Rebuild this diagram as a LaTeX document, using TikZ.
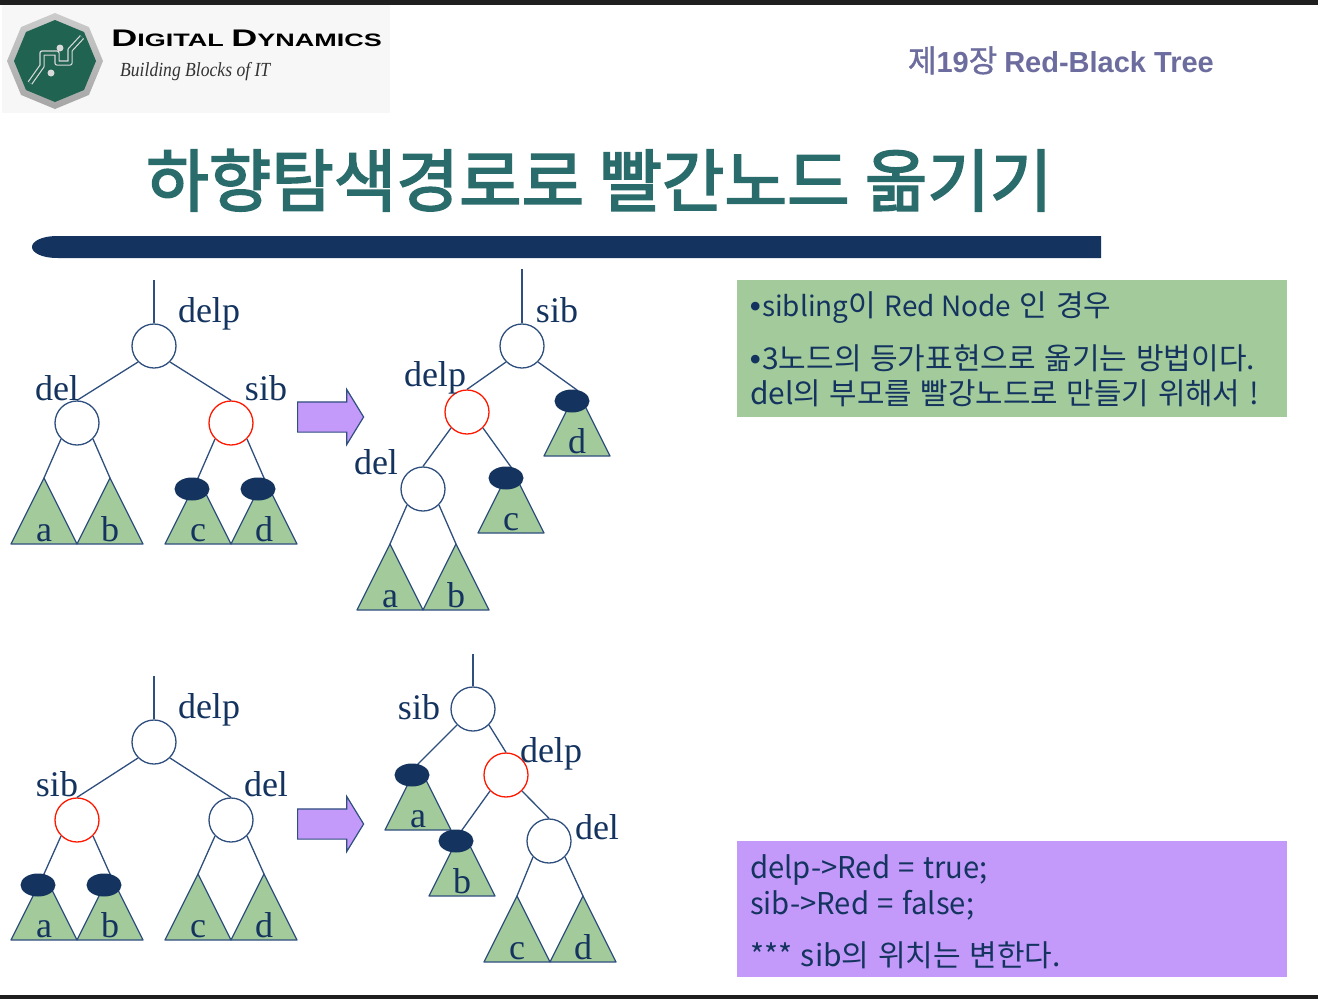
\documentclass[tikz,border=0pt]{standalone}
\usepackage{fontspec}
\usepackage{tikz}
\usetikzlibrary{shapes.geometric,shapes.arrows}
\setmainfont[WordSpace=1.3]{Noto Sans CJK KR}
\newfontfamily\heavyfont[FakeBold=1.2]{Noto Sans CJK KR}
\newfontfamily\titlefont[FakeBold=2.6]{Noto Sans CJK KR}
\newfontfamily\smallfont[Scale=0.93]{Noto Sans CJK KR}
\newfontfamily\treefont{Liberation Serif}
\newfontfamily\logofont{Liberation Sans}
\definecolor{navy}{HTML}{14345F}
\definecolor{edgeblue}{HTML}{2F4F7F}
\definecolor{leafgreen}{HTML}{A3CA9B}
\definecolor{boxpurple}{HTML}{C39AFA}
\definecolor{titleteal}{HTML}{2A6B6B}
\definecolor{headgray}{HTML}{6C6C9E}
\definecolor{logogreen}{HTML}{1F6350}
\newcommand{\bul}{{\logofont\bfseries •}\hspace{1.5pt}}

\begin{document}
\begin{tikzpicture}[
        x=1pt, y=-1pt,
        wnode/.style={circle, draw=edgeblue, fill=white, line width=1.3pt, minimum size=44pt, inner sep=0pt},
        rnode/.style={wnode, draw=red!80!orange},
        bnode/.style={ellipse, fill=navy, minimum width=35pt, minimum height=23pt, inner sep=0pt},
        edge/.style={draw=edgeblue, line width=1.3pt},
        leaf/.style={draw=edgeblue, fill=leafgreen, line width=1.2pt, line join=round},
        tlabel/.style={text=navy, inner sep=0pt, font=\treefont\fontsize{36}{36}\selectfont},
        leaflabel/.style={text=navy, inner sep=0pt, anchor=base, font=\treefont\fontsize{36}{36}\selectfont},
        bigarrow/.style={single arrow, draw=edgeblue, fill=boxpurple, line width=1.2pt, inner sep=0pt, anchor=west,
          minimum height=66pt, single arrow head extend=12.5pt, single arrow tip angle=117},
        boxtext/.style={text=navy, inner sep=0pt, anchor=base west, font=\fontsize{30}{30}\selectfont}
      ]
      \useasboundingbox (0,0) rectangle (1318,999);
      \fill[white] (0,0) rectangle (1318,999);
      \fill[black!88] (0,0) rectangle (1318,5);
      \fill[black!88] (0,995) rectangle (1318,999);

      % logo
      \fill[black!3] (2,5) rectangle (390,113);
      \node[regular polygon, regular polygon sides=8, shape border rotate=22.5, minimum size=96pt, inner sep=0pt,
        top color=black!20, bottom color=black!35] (logoout) at (55,61) {};
      \node[regular polygon, regular polygon sides=8, shape border rotate=22.5, minimum size=82pt, inner sep=0pt,
        fill=logogreen] (logoin) at (55,61) {};
      \draw[black!15, line width=1.2pt, double=logogreen, double distance=3pt, line join=round]
        (30,83) -- (42,66) -- (42,53) -- (57,53) -- (57,63) -- (70,63) -- (70,50) -- (82,37);
      \fill[black!15] (60,48) circle (3.5pt) (51,73) circle (3.5pt);
      \node[anchor=base west, inner sep=0pt, xscale=1.5, font=\logofont\bfseries\fontsize{24}{24}\selectfont] (logoname) at (111,46)
        {D\fontsize{18}{18}\selectfont IGITAL \fontsize{24}{24}\selectfont D\fontsize{18}{18}\selectfont YNAMICS};
      \node[anchor=base west, inner sep=0pt, xscale=0.88, text=black!80, font=\treefont\itshape\fontsize{20}{20}\selectfont] (logosub) at (120,76) {Building Blocks of IT};

      % title
      \node[anchor=base east, inner sep=0pt, text=headgray, font=\heavyfont\fontsize{31}{31}\selectfont] (chapter) at (1214,72)
        {제{\logofont\bfseries\fontsize{29}{29}\selectfont 19}장 {\logofont\bfseries\fontsize{29}{29}\selectfont Red-Black Tree}};
      \node[anchor=base west, inner sep=0pt, text=titleteal, font=\titlefont\fontsize{68}{68}\selectfont] (title) at (146,206) {하향탐색경로로 빨간노드 옮기기};
      \fill[navy] (1101,236) -- (58,236) .. controls (40,236) and (32,242) .. (32,247)
        .. controls (32,252) and (40,258) .. (58,258) -- (1101,258) -- cycle;

      % leaves: name/x/y/text, (x,y) is the apex
      \foreach \nm/\x/\y/\txt in {la/44/478/a, lb/110/478/b, lc/198/478/c, ld/264/478/d,
          ma/390/544/a, mb/456/544/b, mc/511/467/c, md/577/390/d,
          na/44/874/a, nb/110/874/b, nc/198/874/c, nd/264/874/d,
          pa/418/764/a, pb/462/830/b, pc/517/896/c, pd/583/896/d} {
        \draw[leaf] (\x,\y) coordinate (\nm) -- ++(33,66) -- ++(-66,0) -- cycle;
        \node[leaflabel] (\nm-t) at (\x,\y+63) {\txt};
      }

      % first tree
      \node[wnode] (t1delp) at (154,346) {};
      \node[wnode] (t1del) at (77,423) {};
      \node[rnode] (t1sib) at (231,423) {};
      \coordinate (t1top) at (154,280);
      \draw[edge] (t1top) -- (t1delp);
      \draw[edge] (t1delp.south west) -- (t1del.north);
      \draw[edge] (t1delp.south east) -- (t1sib.north);
      \draw[edge] (t1del.south west) -- (la);
      \draw[edge] (t1del.south east) -- (lb);
      \draw[edge] (t1sib.south west) -- (lc);
      \draw[edge] (t1sib.south east) -- (ld);
      \node[bnode] (t1c) at (192,489) {};
      \node[bnode] (t1d) at (258,489) {};
      \node[tlabel] (t1a) at (209,314) {delp};
      \node[tlabel] (t1b) at (57,388) {del};
      \node[tlabel] (t1e) at (266,388) {sib};

      % second tree
      \node[wnode] (t2sib) at (522,346) {};
      \node[rnode] (t2delp) at (467,412) {};
      \node[wnode] (t2del) at (423,489) {};
      \coordinate (t2top) at (522,269);
      \draw[edge] (t2top) -- (t2sib);
      \draw[edge] (t2sib.south west) -- (t2delp.north);
      \draw[edge] (t2sib.south east) -- (md);
      \draw[edge] (t2delp.south west) -- (t2del.north);
      \draw[edge] (t2delp.south east) -- (mc);
      \draw[edge] (t2del.south west) -- (ma);
      \draw[edge] (t2del.south east) -- (mb);
      \node[bnode] (t2c) at (506,478) {};
      \node[bnode] (t2d) at (572,401) {};
      \node[tlabel] (t2a) at (557,310) {sib};
      \node[tlabel] (t2b) at (435,378) {delp};
      \node[tlabel] (t2e) at (376,462) {del};

      % third tree
      \node[wnode] (t3delp) at (154,742) {};
      \node[rnode] (t3sib) at (77,820) {};
      \node[wnode] (t3del) at (231,820) {};
      \coordinate (t3top) at (154,676);
      \draw[edge] (t3top) -- (t3delp);
      \draw[edge] (t3delp.south west) -- (t3sib.north);
      \draw[edge] (t3delp.south east) -- (t3del.north);
      \draw[edge] (t3sib.south west) -- (na);
      \draw[edge] (t3sib.south east) -- (nb);
      \draw[edge] (t3del.south west) -- (nc);
      \draw[edge] (t3del.south east) -- (nd);
      \node[bnode] (t3c) at (38,885) {};
      \node[bnode] (t3d) at (104,885) {};
      \node[tlabel] (t3a) at (209,710) {delp};
      \node[tlabel] (t3b) at (57,784) {sib};
      \node[tlabel] (t3e) at (266,784) {del};

      % fourth tree
      \node[wnode] (t4sib) at (473,709) {};
      \node[rnode] (t4delp) at (506,775) {};
      \node[wnode] (t4del) at (549,841) {};
      \coordinate (t4top) at (473,654);
      \draw[edge] (t4top) -- (t4sib);
      \draw[edge] (t4sib.south west) -- (pa);
      \draw[edge] (t4sib.south east) -- (t4delp.north);
      \draw[edge] (t4delp.south west) -- (pb);
      \draw[edge] (t4delp.south east) -- (t4del.north);
      \draw[edge] (t4del.south west) -- (pc);
      \draw[edge] (t4del.south east) -- (pd);
      \node[bnode] (t4c) at (412,775) {};
      \node[bnode] (t4d) at (456,841) {};
      \node[tlabel] (t4a) at (419,707) {sib};
      \node[tlabel] (t4b) at (551,754) {delp};
      \node[tlabel] (t4e) at (597,827) {del};

      % arrows
      \node[bigarrow] (arrow1) at (297,417) {\rule{0pt}{29pt}};
      \node[bigarrow] (arrow2) at (297,824) {\rule{0pt}{29pt}};

      % text boxes
      \fill[leafgreen] (737,280) rectangle (1287,417);
      \fill[boxpurple] (737,841) rectangle (1287,977);
      \node[boxtext] (g1) at (750,316) {\bul{\smallfont sibling}이 {\smallfont Red Node} 인 경우};
      \node[boxtext] (g2) at (750,369) {\bul 3노드의 등가표현으로 옮기는 방법이다.};
      \node[boxtext, xscale=0.995] (g3) at (750,404) {del의 부모를 빨강노드로 만들기 위해서 !};
      \node[boxtext, xscale=0.975] (p1) at (750,878) {delp->Red = true;};
      \node[boxtext, xscale=0.975] (p2) at (750,914) {sib->Red = false;};
      \node[boxtext] (p3) at (750,966) {*** sib의 위치는 변한다.};
    \end{tikzpicture}
\end{document}
